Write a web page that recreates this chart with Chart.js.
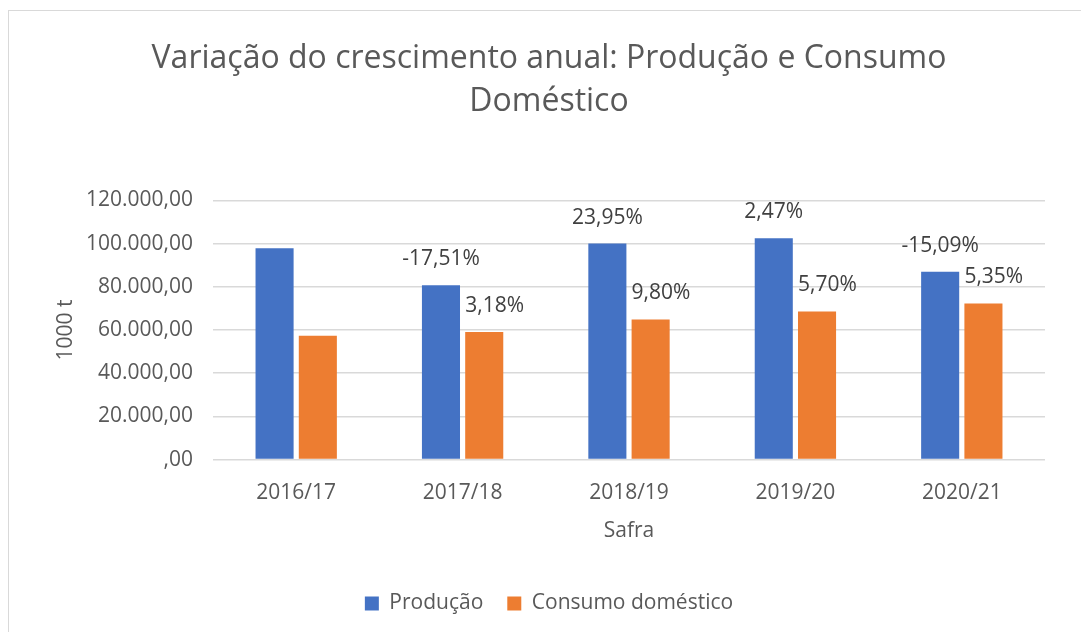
<!DOCTYPE html>
<html>
<head>
<meta charset="utf-8">
<script src="https://cdn.jsdelivr.net/npm/chart.js@4"></script>
<style>
    html, body { margin: 0; padding: 0; background: #fff; overflow: hidden; }
    #frame { position: absolute; left: 8px; top: 10px; width: 1100px; height: 700px; border: 1px solid #d9d9d9; }
    #wrap { position: absolute; left: 0; top: 0; width: 1081px; height: 632px; }
</style>
</head>
<body>
<div id="frame"></div>
<div id="wrap"><canvas id="chart"></canvas></div>
<script>
const safras = ['2016/17', '2017/18', '2018/19', '2019/20', '2020/21'];
const producao = [97800, 80700, 100000, 102500, 87000];
const consumo = [57300, 59100, 64900, 68600, 72300];
const producaoVar = [null, '-17,51%', '23,95%', '2,47%', '-15,09%'];
const consumoVar = [null, '3,18%', '9,80%', '5,70%', '5,35%'];
const yTicks = [0, 20000, 40000, 60000, 80000, 100000, 120000];

const fontFamily = '"Open Sans", sans-serif';

function fmtTick(v) {
    if (v === 0) return ',00';
    return v.toLocaleString('de-DE') + ',00';
}

// growth % above each bar: centred on the blue ones, left-aligned on the orange ones
const varLabels = {
    id: 'varLabels',
    afterDatasetsDraw(chart) {
        const ctx = chart.ctx;
        const texts = [producaoVar, consumoVar];
        ctx.save();
        ctx.font = '21px ' + fontFamily;
        ctx.fillStyle = '#404040';
        ctx.textBaseline = 'middle';
        chart.data.datasets.forEach((ds, di) => {
            chart.getDatasetMeta(di).data.forEach((bar, i) => {
                const t = texts[di][i];
                if (!t) return;
                if (di === 0) {
                    ctx.textAlign = 'center';
                    ctx.fillText(t, bar.x, bar.y - 26);
                } else {
                    ctx.textAlign = 'left';
                    ctx.fillText(t, bar.x - bar.width / 2, bar.y - 26);
                }
            });
        });
        ctx.restore();
    }
};

new Chart(document.getElementById('chart'), {
    type: 'bar',
    data: {
        labels: safras,
        datasets: [
            { label: 'Produção', data: producao, backgroundColor: '#4472c4' },
            { label: 'Consumo doméstico', data: consumo, backgroundColor: '#ed7d31' }
        ]
    },
    options: {
        responsive: true,
        maintainAspectRatio: false,
        animation: false,
        categoryPercentage: 0.52,
        barPercentage: 0.88,
        layout: { padding: { left: 53, right: 36, top: 20, bottom: 8 } },
        scales: {
            x: {
                grid: { display: false },
                border: { display: false },
                ticks: { color: '#595959', font: { family: fontFamily, size: 21 }, padding: 13 },
                title: { display: true, text: 'Safra', color: '#595959', font: { family: fontFamily, size: 21 }, padding: { top: 0, bottom: 25 } }
            },
            y: {
                min: 0,
                max: 120000,
                afterBuildTicks: (s) => { s.ticks = yTicks.map(v => ({ value: v })); },
                afterFit: (s) => { s.width = 160; },
                grid: { color: '#d9d9d9', lineWidth: 1.5, drawTicks: false },
                border: { display: false },
                ticks: { color: '#595959', font: { family: fontFamily, size: 21 }, padding: 20, callback: fmtTick },
                title: { display: true, text: '1000 t', color: '#595959', font: { family: fontFamily, size: 21 }, padding: 0 }
            }
        },
        plugins: {
            title: {
                display: true,
                text: ['Variação do crescimento anual: Produção e Consumo', 'Doméstico'],
                color: '#595959',
                font: { family: fontFamily, size: 32, weight: 'normal', lineHeight: 1.35 },
                padding: { top: 17, bottom: 77 }
            },
            legend: {
                position: 'bottom',
                labels: { color: '#595959', font: { family: fontFamily, size: 21 }, boxWidth: 14, boxHeight: 14, padding: 24 }
            },
            tooltip: { enabled: false }
        }
    },
    plugins: [varLabels]
});
</script>
</body>
</html>
